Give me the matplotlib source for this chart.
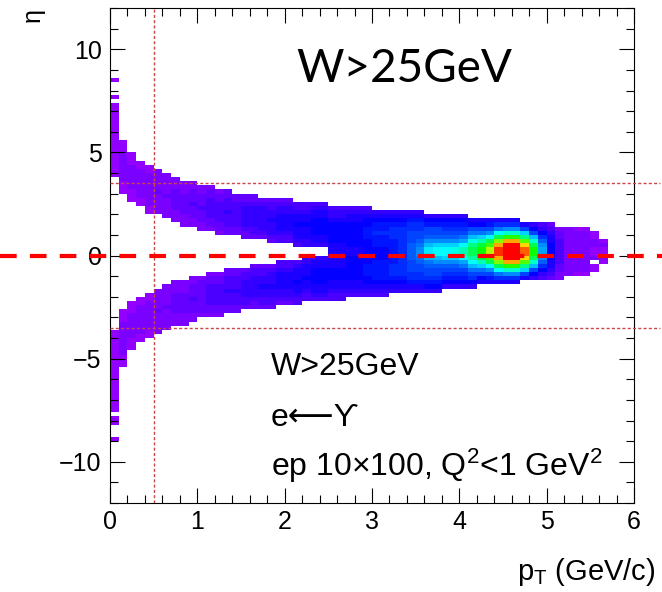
import colorsys
import numpy as np
import matplotlib
matplotlib.use("Agg")
import matplotlib.pyplot as plt
from matplotlib.colors import ListedColormap, Normalize
from matplotlib.ticker import MultipleLocator
from matplotlib.transforms import blended_transform_factory

# ---------------- data ----------------
# pT columns of width 0.1 GeV/c starting at 0; eta rows of width 0.2
# upper band (eta > 0): outer edge / inner edge
up_hi = [7.4, 5.6, 5.0, 4.6, 4.4, 4.2, 4.0, 3.8, 3.6, 3.6,
         3.4, 3.4, 3.2, 3.2, 3.0, 3.0, 3.0, 2.8, 2.8, 2.8,
         2.8, 2.6, 2.6, 2.6, 2.6, 2.4, 2.4, 2.4, 2.4, 2.4,
         2.2, 2.2, 2.2, 2.2, 2.2, 2.2, 2.0, 2.0, 2.0, 2.0,
         2.0, 1.8, 1.8, 1.8, 1.8, 1.8, 1.8, 1.6, 1.6, 1.6,
         1.6, 1.4, 1.4, 1.4, 1.4, 1.2, 0.8]
up_lo = [3.8, 3.0, 2.6, 2.4, 2.0, 2.0, 1.8, 1.6, 1.4, 1.4,
         1.2, 1.2, 1.0, 1.0, 1.0, 0.8, 0.8, 0.8, 0.6, 0.6,
         0.6, 0.4, 0.4, 0.4, 0.4, 0.2, 0.2, 0.2, 0.2, 0.2,
         0.2, 0.2, 0.2, 0.2, 0.2, 0.2, 0.2, 0.2, 0.2, 0.2,
         0.2, 0.2, 0.2, 0.2, 0.2, 0.2, 0.2, 0.2, 0.2, 0.2,
         0.2, 0.2, 0.2, 0.2, 0.2, 0.2, 0.2]
# lower band (eta < 0): inner edge / outer edge
dn_hi = [-3.6, -2.6, -2.2, -2.0, -1.8, -1.6, -1.4, -1.2, -1.2, -1.0,
         -1.0, -0.8, -0.8, -0.6, -0.6, -0.6, -0.4, -0.4, -0.4, -0.2,
         -0.2, -0.2, 0.0, 0.0, 0.0, 0.2, 0.2, 0.2, 0.2, 0.2,
         0.2, 0.2, 0.2, 0.2, 0.2, 0.2, 0.2, 0.2, 0.2, 0.2,
         0.2, 0.2, 0.2, 0.2, 0.2, 0.2, 0.2, 0.2, 0.2, 0.2,
         0.2, 0.2, 0.2, 0.2, 0.2, 0.2, 0.2]
dn_lo = [-7.6, -5.4, -4.6, -4.2, -4.0, -3.8, -3.6, -3.4, -3.4, -3.2,
         -3.0, -3.0, -3.0, -2.8, -2.8, -2.6, -2.6, -2.6, -2.6, -2.4,
         -2.4, -2.4, -2.2, -2.2, -2.2, -2.2, -2.2, -2.0, -2.0, -2.0,
         -2.0, -2.0, -1.8, -1.8, -1.8, -1.8, -1.8, -1.8, -1.6, -1.6,
         -1.6, -1.6, -1.4, -1.4, -1.4, -1.4, -1.4, -1.2, -1.2, -1.2,
         -1.2, -1.2, -1.0, -1.0, -1.0, -0.8, -0.4]
# colour level (fraction of maximum) of the bands in each pT column
base_lvl = [0.015, 0.025, 0.025, 0.03, 0.03, 0.04, 0.04, 0.05, 0.05, 0.06,
            0.06, 0.07, 0.07, 0.08, 0.08, 0.09, 0.09, 0.10, 0.10, 0.11,
            0.11, 0.12, 0.12, 0.13, 0.13, 0.12, 0.12, 0.13, 0.13, 0.14,
            0.15, 0.15, 0.16, 0.16, 0.17, 0.17, 0.18, 0.18, 0.18, 0.18,
            0.18, 0.18, 0.18, 0.18, 0.18, 0.17, 0.17, 0.16, 0.14, 0.11,
            0.08, 0.05, 0.035, 0.03, 0.025, 0.02, 0.02]
# extra level of the hot spot near eta ~ 0.2
hot_lvl = [0.0] * 33 + [0.03, 0.06, 0.10, 0.17, 0.19, 0.20, 0.21, 0.26,
                        0.33, 0.42, 0.55, 0.80, 1.10, 1.10, 0.78, 0.45,
                        0.18, 0.06, 0.02] + [0.0] * 5
hot_w = [0.35] * 41 + [0.45] * 3 + [0.5] * 4 + [0.45] * 9
hot_eta = 0.2
# isolated cells at very low pT and a missing cell
extra_pt = [0.05, 0.05, 0.05, 0.05, 0.05]
extra_eta = [8.5, 7.7, -7.9, -8.1, -8.9]
hole_pt = [5.55]
hole_eta = [-0.3]

x_ticks = [0, 1, 2, 3, 4, 5, 6]
y_ticks = [-10, -5, 0, 5, 10]

# ---------------- build histogram ----------------
ncol = len(up_hi)
pt_edges = np.arange(ncol + 1) * 0.1
eta_edges = np.linspace(-12, 12, 121)
eta_c = 0.5 * (eta_edges[:-1] + eta_edges[1:])
Z = np.full((len(eta_c), ncol), np.nan)
for c in range(ncol):
    m_up = 0.5 * (up_lo[c] + up_hi[c]); s_up = 0.4 * (up_hi[c] - up_lo[c])
    m_dn = 0.5 * (dn_lo[c] + dn_hi[c]); s_dn = 0.4 * (dn_hi[c] - dn_lo[c])
    lvl = base_lvl[c] * (np.exp(-0.5 * ((eta_c - m_up) / s_up) ** 2)
                         + np.exp(-0.5 * ((eta_c - m_dn) / s_dn) ** 2))
    lvl += hot_lvl[c] * np.exp(-0.5 * ((eta_c - hot_eta) / hot_w[c]) ** 2)
    lvl = np.maximum(lvl, 0.005)
    sel = ((eta_c > up_lo[c]) & (eta_c < up_hi[c])) | ((eta_c > dn_lo[c]) & (eta_c < dn_hi[c]))
    Z[sel, c] = lvl[sel]
for p, e in zip(extra_pt, extra_eta):
    Z[np.argmin(abs(eta_c - e)), int(p / 0.1)] = 0.01
for p, e in zip(hole_pt, hole_eta):
    Z[np.argmin(abs(eta_c - e)), int(p / 0.1)] = np.nan

# ROOT "pretty" palette: 50 colours, hue 280 -> 0
pal = [colorsys.hls_to_rgb((280 - (i + 1) * 5.6) / 360.0, 0.5, 1.0) for i in range(50)]
cmap = ListedColormap(pal)
cmap.set_bad((1, 1, 1, 0))

# ---------------- figure ----------------
plt.rcParams['font.family'] = ['Liberation Sans', 'DejaVu Sans']
plt.rcParams['mathtext.default'] = 'regular'
plt.rcParams['lines.scale_dashes'] = False

W, H = 662, 592
fig = plt.figure(figsize=(W / 100, H / 100), dpi=100)
L, R, T, B = 110, 634, 8, 503
ax = fig.add_axes([L / W, 1 - B / H, (R - L) / W, (B - T) / H])

ax.pcolormesh(pt_edges, eta_edges, np.ma.masked_invalid(Z), cmap=cmap,
              norm=Normalize(0, 1), shading='flat', zorder=1)

ax.set_xlim(0, 6)
ax.set_ylim(-12, 12)
ax.set_xticks(x_ticks)
ax.set_yticks(y_ticks)
ax.xaxis.set_minor_locator(MultipleLocator(0.2))
ax.yaxis.set_minor_locator(MultipleLocator(1))
ax.tick_params(which='both', direction='in', top=True, right=True, width=0.8)
ax.tick_params(which='major', length=11, labelsize=18)
ax.tick_params(which='minor', length=5.5)
ax.tick_params(axis='x', pad=5)
ax.tick_params(axis='y', pad=6)
for s in ax.spines.values():
    s.set_linewidth(0.8)

dot_col = '#c84848'
ax.plot([0.5, 0.5], [-12, 12], color=dot_col, lw=1.0, linestyle=(0, (2.2, 1.6)), zorder=3)
for yv in (3.5, -3.5):
    ax.plot([0, 6.3], [yv, yv], color=dot_col, lw=1.0, linestyle=(0, (2.2, 1.6)),
            zorder=3, clip_on=False)
tr = blended_transform_factory(fig.transFigure, ax.transData)
ax.plot([0, 1], [0, 0], transform=tr, color='#ff0000', lw=3.0,
        linestyle=(0, (12, 9.5)), zorder=4, clip_on=False)

fig.text(296 / W, 1 - 82 / H, 'W>25GeV', fontfamily=['Lato', 'DejaVu Sans'], fontsize=33,
         ha='left', va='baseline')
fig.text(271 / W, 1 - 375 / H, 'W>25GeV', fontsize=23, ha='left', va='baseline')
fig.text(271 / W, 1 - 426 / H, 'e\u27f5\u03d2', fontsize=23, ha='left', va='baseline')
fig.text(271 / W, 1 - 476 / H, 'ep 10\u00d7100, Q$^{2}$<1 GeV$^{2}$', fontsize=23,
         ha='left', va='baseline')
fig.text(33 / W, 1 - 8 / H, '\u03b7', fontsize=18, rotation=90, ha='center', va='top')
fig.text(655 / W, 1 - 580 / H, 'p$_{T}$ (GeV/c)', fontsize=21, ha='right', va='baseline')

fig.savefig('out.png', dpi=100)
